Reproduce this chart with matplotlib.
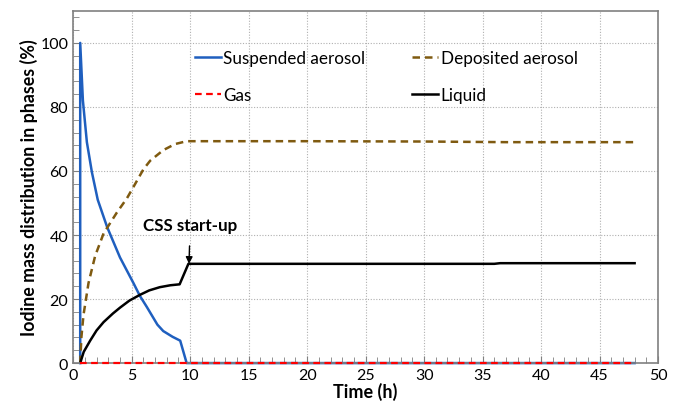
import matplotlib
matplotlib.use('Agg')
import matplotlib.pyplot as plt
from matplotlib.ticker import MultipleLocator

plt.rcParams['font.family'] = ['Lato', 'DejaVu Sans']

# values
t_susp = [0.6, 0.6, 0.83, 1.17, 1.6, 2.1, 2.9, 4.0, 5.15, 5.7, 6.3, 7.2, 7.7, 8.5, 9.15, 9.7, 48.0]
v_susp = [0, 100, 82, 69, 59.6, 51, 42.5, 33, 25, 21, 17.5, 12, 10, 8.2, 7, 0, 0]

t_dep = [0.6, 0.7, 0.88, 1.31, 1.88, 2.6, 3.73, 4.6, 5.15, 6.0, 6.58, 7.7, 8.7, 9.7, 20, 30, 37, 48]
v_dep = [0, 8, 15, 25, 33.5, 40.5, 47, 51.5, 55, 60.5, 63.2, 66.5, 68.4, 69.3, 69.3, 69.2, 69.0, 69.0]

t_liq = [0.6, 0.9, 1.45, 2.0, 2.6, 3.4, 4.0, 4.8, 5.7, 6.5, 7.4, 8.3, 9.1, 9.85, 20, 36, 36.5, 48]
v_liq = [0, 3.5, 7, 10.2, 12.8, 15.5, 17.3, 19.5, 21.3, 22.7, 23.7, 24.3, 24.6, 31, 31, 31, 31.2, 31.2]

t_gas = [0.6, 48.0]
v_gas = [0, 0]

fig = plt.figure(figsize=(6.84, 4.10), dpi=100)
ax = fig.add_axes([0.107, 0.112, 0.855, 0.859])

l_susp, = ax.plot(t_susp, v_susp, color='#1f5fbf', lw=1.8, clip_on=False, label='Suspended aerosol')
l_dep, = ax.plot(t_dep, v_dep, color='#7f5a10', lw=1.8, ls=(0, (3, 2)), label='Deposited aerosol')
l_liq, = ax.plot(t_liq, v_liq, color='black', lw=1.8, label='Liquid')
l_gas, = ax.plot(t_gas, v_gas, color='#ff0000', lw=1.6, ls=(0, (3, 2)), clip_on=False,
                 zorder=4, label='Gas')

ax.set_xlim(0, 50)
ax.set_ylim(0, 110)
ax.xaxis.set_major_locator(MultipleLocator(5))
ax.xaxis.set_minor_locator(MultipleLocator(1))
ax.set_yticks([0, 20, 40, 60, 80, 100])
ax.yaxis.set_minor_locator(MultipleLocator(4))
ax.tick_params(which='both', direction='in', labelsize=11.5, color='#808080')
ax.tick_params(which='major', length=5)
ax.tick_params(which='minor', length=4)
ax.grid(True, which='major', color='#b0b0b0', ls=(0, (1, 1.5)), lw=0.8)
for s in ax.spines.values():
    s.set_color('#808080')
    s.set_linewidth(1.2)

ax.set_xlabel('Time (h)', fontsize=13, fontweight='bold', labelpad=0)
ax.set_ylabel('Iodine mass distribution in phases (%)', fontsize=12.8, fontweight='bold', labelpad=2)

ax.annotate('CSS start-up', xy=(9.9, 31), xytext=(10.0, 43),
            ha='center', va='center', fontsize=12.2, fontweight='bold',
            arrowprops=dict(arrowstyle='-|>', color='black', lw=1, mutation_scale=10,
                            shrinkA=7, shrinkB=0))

ax.legend([l_susp, l_gas, l_dep, l_liq], ['Suspended aerosol', 'Gas', 'Deposited aerosol', 'Liquid'],
          ncol=2, frameon=False, loc='upper left', bbox_to_anchor=(0.2085, 0.89),
          borderaxespad=0, borderpad=0,
          fontsize=12.3, handlelength=1.5, handletextpad=0.15, columnspacing=2.75,
          labelspacing=1.25)

fig.savefig('out.png', dpi=100)
